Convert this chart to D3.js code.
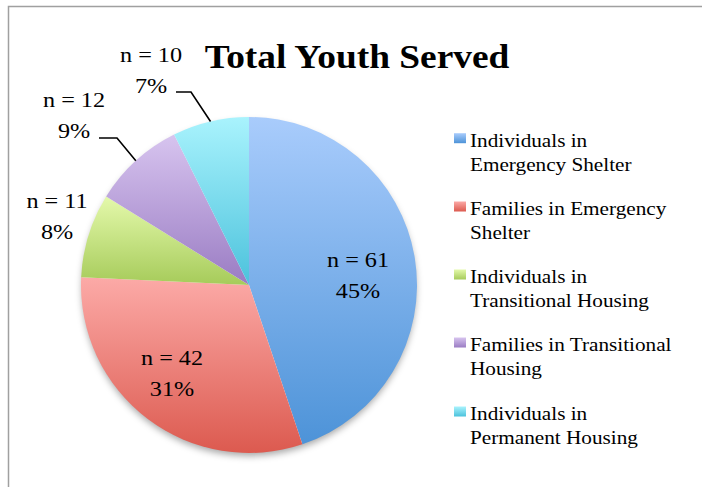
<!DOCTYPE html>
<html><head><meta charset="utf-8">
<script src="https://cdn.jsdelivr.net/npm/d3@7"></script>
<style>body{margin:0;background:#fff}svg{display:block}</style>
</head><body>
<svg id="c" width="702" height="487"></svg>
<script>
const categories = ["Individuals in Emergency Shelter","Families in Emergency Shelter","Individuals in Transitional Housing","Families in Transitional Housing","Individuals in Permanent Housing"];
const legendLines = [["Individuals in","Emergency Shelter"],["Families in Emergency","Shelter"],["Individuals in","Transitional Housing"],["Families in Transitional","Housing"],["Individuals in","Permanent Housing"]];
const counts = [61, 42, 11, 12, 10];
const percents = ["45%","31%","8%","9%","7%"];
const topColors = ["#a9ccfc","#fcaaa7","#e4f9ab","#d7c4ef","#a9f3fd"];
const bottomColors = ["#4d93d8","#dc5a4f","#a6cb5a","#9a7cc3","#4cc2dc"];
const title = "Total Youth Served";
const FONT = "'Liberation Serif', Tinos, 'Times New Roman', Times, 'DejaVu Serif', serif";

const svg = d3.select("#c");
const defs = svg.append("defs");
topColors.forEach((c,i)=>{
  const g = defs.append("linearGradient").attr("id","g"+i).attr("x1",0).attr("y1",0).attr("x2",0).attr("y2",1);
  g.append("stop").attr("offset","0%").attr("stop-color",c);
  g.append("stop").attr("offset","100%").attr("stop-color",bottomColors[i]);
});
const f = defs.append("filter").attr("id","sh").attr("x","-20%").attr("y","-20%").attr("width","140%").attr("height","140%");
f.append("feDropShadow").attr("dx",0).attr("dy",4).attr("stdDeviation",3.5).attr("flood-color","#000").attr("flood-opacity",0.35);

svg.append("path").attr("d","M8.5,487 L8.5,6.5 L702,6.5").attr("fill","none").attr("stroke","#a0a0a0").attr("stroke-width",1.5);

const cx = 249, cy = 285, r = 168;
const pie = d3.pie().sort(null).value(d=>d);
const arcs = pie(counts);
const arc = d3.arc().innerRadius(0).outerRadius(r);
const pg = svg.append("g").attr("transform",`translate(${cx},${cy})`);
pg.append("circle").attr("r",r-1).attr("fill","#fff").attr("filter","url(#sh)");
pg.selectAll("path.s").data(arcs).join("path").attr("class","s")
  .attr("d",arc).attr("fill",(d,i)=>`url(#g${i})`);

const SX = 1.1;
function txt(x,y,s,size,weight){
  svg.append("text").attr("transform",`translate(${x},${y}) scale(${SX},1)`)
    .attr("text-anchor","middle").attr("font-family",FONT).attr("font-size",size)
    .attr("font-weight",weight||"normal").attr("fill","#000").text(s);
}
txt(357,68,title,34,"bold");

const labelPos = [[358,267],[172,365],[57,208],[74,107],[151,62]];
arcs.forEach((d,i)=>{
  const [x,y] = labelPos[i];
  txt(x,y,"n = "+counts[i],22);
  txt(x,y+31,percents[i],22);
});
const leaders = [
  {i:4, pts:[[176,92],[191,92]]},
  {i:3, pts:[[99,138],[117,138]]}
];
leaders.forEach(l=>{
  const a = arcs[l.i];
  const ang = (a.startAngle + a.endAngle)/2;
  const ex = cx + r*Math.sin(ang), ey = cy - r*Math.cos(ang);
  svg.append("path").attr("d",d3.line()([...l.pts,[ex,ey]])).attr("fill","none").attr("stroke","#000").attr("stroke-width",1.6);
});

const lg = svg.append("g");
const baseY = [146.7,215,283,351,420];
legendLines.forEach((lines,i)=>{
  const y = baseY[i];
  lg.append("rect").attr("x",454).attr("y",y-13.5).attr("width",12).attr("height",10).attr("fill",`url(#g${i})`);
  lines.forEach((s,j)=>{
    lg.append("text").attr("transform",`translate(470,${y+j*24}) scale(${SX},1)`)
      .attr("font-family",FONT).attr("font-size",19.3).attr("fill","#000").text(s);
  });
});
</script>
</body></html>
